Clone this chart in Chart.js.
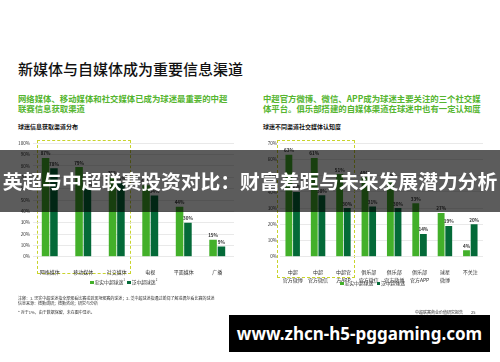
<!DOCTYPE html>
<html>
<head>
<meta charset="utf-8">
<script src="https://cdn.jsdelivr.net/npm/chart.js"></script>
<style>
  html,body{margin:0;padding:0;background:#fff;}
  body{width:500px;height:362px;position:relative;overflow:hidden;font-family:"Noto Sans CJK SC","Noto Sans",sans-serif;}
  .abs{position:absolute;white-space:nowrap;}
  .title{left:18px;top:58px;font-size:15px;color:#111;font-weight:500;}
  .sub{font-size:8.4px;color:#55b52f;font-weight:700;line-height:10px;}
  .cap{font-size:6px;color:#111;font-weight:700;}
  .legend{font-size:4.8px;color:#333;}
  .legend i{display:inline-block;width:3.5px;height:3.5px;margin-right:1px;vertical-align:middle;}
  .note{font-size:4px;color:#333;line-height:5px;}
  .box{position:absolute;border:1px dashed #c9d42c;}
  .banner{position:absolute;left:0;top:150px;width:500px;height:62px;background:rgba(0,0,0,0.64);color:#fff;font-size:19.8px;font-weight:700;line-height:62px;text-align:center;white-space:nowrap;}
  .url{position:absolute;left:229px;top:315px;width:261px;height:37px;background:#000;color:#fff;font-family:"Noto Sans",sans-serif;font-weight:700;font-size:17px;line-height:37px;text-align:center;white-space:nowrap;}
  canvas{position:absolute;}
</style>
</head>
<body>
<div class="abs title">新媒体与自媒体成为重要信息渠道</div>
<div class="abs sub" style="left:18px;top:93px;">网络媒体、移动媒体和社交媒体已成为球迷最重要的中超<br>联赛信息获取渠道</div>
<div class="abs cap" style="left:18px;top:122px;">球迷信息获取渠道分布</div>
<div class="abs sub" style="left:263px;top:93px;">中超官方微博、微信、APP成为球迷主要关注的三个社交媒<br>体平台。俱乐部搭建的自媒体渠道在球迷中也有一定认知度</div>
<div class="abs cap" style="left:263px;top:122px;">球迷不同渠道社交媒体认知度</div>

<div class="box" style="left:37px;top:140px;width:92px;height:132px;"></div>
<div class="box" style="left:277px;top:140px;width:76px;height:136px;"></div>

<canvas id="chart_left" width="240" height="150" style="left:0;top:130px;width:240px;height:150px;"></canvas>
<canvas id="chart_right" width="250" height="160" style="left:250px;top:130px;width:250px;height:160px;"></canvas>

<div class="abs legend" style="left:90px;top:278px;"><i style="background:#43b02a"></i>忠实中超球迷<sup style="font-size:3px">1</sup>&nbsp;&nbsp;<i style="background:#046a38"></i>泛中超球迷<sup style="font-size:3px">2</sup></div>
<div class="abs legend" style="left:340px;top:279px;"><i style="background:#43b02a"></i>忠实中超球迷&nbsp;&nbsp;&nbsp;<i style="background:#046a38"></i>泛中超球迷</div>

<div class="abs note" style="left:18px;top:296px;">注释：1. 忠实中超球迷指全部观看比赛或到现场观赛的球迷；2. 泛中超球迷指通过新闻了解或偶尔看比赛的球迷<br>信息来源：德勤调研；德勤咨询；研究与分析</div>
<div class="abs note" style="left:18px;top:310px;">* 对于1%，由于数据保留，未在图中显示。</div>
<div class="abs note" style="left:415px;top:310px;">中超联赛商业价值研究报告&nbsp;&nbsp;&nbsp;&nbsp;&nbsp;&nbsp;&nbsp;&nbsp;&nbsp;25</div>

<div class="banner">英超与中超联赛投资对比：财富差距与未来发展潜力分析</div>
<div class="url">www.zhcn-h5-pggaming.com</div>

<script>
// left chart data
const channels = ['网络媒体', '移动媒体', '社交媒体', '电视', '平面媒体', '广播']
const loyal_left = [87, 79, 70, 63, 44, 15]
const general_left = [78, 60, 65, 54, 30, 9]
const ticks_left = [0, 10, 20, 30, 40, 50, 60, 70, 80, 90, 100]

// right chart data
const platforms = [['中超', '官方微博'], ['中超', '官方微信'], ['中超官', '方APP'], ['俱乐部', '官方微信'], ['俱乐部', '官方微博'], ['俱乐部', '官方APP'], ['球星', '微博'], ['不关注']]
const loyal_right = [63, 61, 51, 49, 47, 33, 27, 4]
const general_right = [40, 38, 30, 31, 30, 14, 19, 20]
const ticks_right = [0, 10, 20, 30, 40, 50, 60, 70]

const LIGHT = '#43b02a'
const DARK = '#046a38'
const FONT = '"Noto Sans CJK SC", "Noto Sans", sans-serif'

// value labels above bars
const valueLabels = {
  id: 'valueLabels',
  afterDatasetsDraw(chart){
    const ctx = chart.ctx
    ctx.save()
    ctx.font = 'bold 4.6px ' + FONT
    ctx.fillStyle = '#333'
    ctx.textAlign = 'center'
    ctx.textBaseline = 'bottom'
    chart.data.datasets.forEach((ds, i) => {
      chart.getDatasetMeta(i).data.forEach((bar, j) => {
        ctx.fillText(ds.data[j] + '%', bar.x, bar.y - 2)
      })
    })
    ctx.restore()
  }
}

function makeChart(id, labels, loyal, general, ticks, cfg){
  return new Chart(document.getElementById(id), {
    type: 'bar',
    data: {
      labels: labels,
      datasets: [
        { label: '忠实中超球迷', data: loyal, backgroundColor: LIGHT, barPercentage: 0.9, categoryPercentage: cfg.cat },
        { label: '泛中超球迷', data: general, backgroundColor: DARK, barPercentage: 0.9, categoryPercentage: cfg.cat }
      ]
    },
    options: {
      responsive: false,
      animation: false,
      devicePixelRatio: 1,
      layout: { padding: { top: 13.3, right: cfg.right, left: 0, bottom: 0 } },
      plugins: { legend: { display: false }, tooltip: { enabled: false } },
      scales: {
        x: {
          grid: { display: false },
          border: { display: false },
          ticks: { font: { size: 5, family: FONT, lineHeight: 1.5 }, color: '#333', padding: 4, maxRotation: 0, autoSkip: false },
          afterFit(scale){ scale.height = cfg.xh }
        },
        y: {
          min: 0,
          max: ticks[ticks.length - 1],
          afterBuildTicks(scale){ scale.ticks = ticks.map(v => ({ value: v })) },
          grid: { color: '#e3e3e3', lineWidth: 0.8, drawTicks: false },
          border: { display: false },
          ticks: { font: { size: 4.6, family: FONT }, color: '#333', padding: 3, callback: v => v + '%' },
          afterFit(scale){ scale.width = cfg.yw }
        }
      }
    },
    plugins: [valueLabels]
  })
}

makeChart('chart_left', channels, loyal_left, general_left, ticks_left, { cat: 0.5, right: 6, xh: 23.3, yw: 33 })
makeChart('chart_right', platforms, loyal_right, general_right, ticks_right, { cat: 0.6, right: 17, xh: 33.3, yw: 30 })
</script>
</body>
</html>
